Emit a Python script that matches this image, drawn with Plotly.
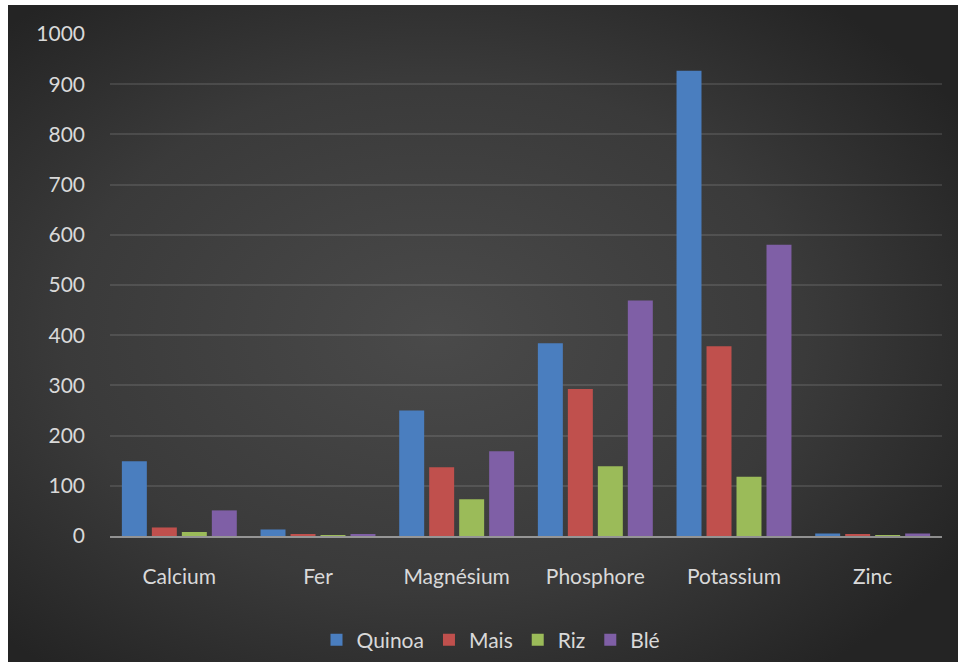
import base64
import plotly.graph_objects as go

# Mineral content (mg per 100 g)
minerals = ["Calcium", "Fer", "Magnésium", "Phosphore", "Potassium", "Zinc"]
quinoa = [149, 13, 250, 384, 927, 5]
mais = [17, 4, 137, 293, 378, 4]
riz = [8, 2, 73, 139, 118, 1.5]
ble = [51, 3.5, 169, 469, 580, 5]

series_names = ["Quinoa", "Mais", "Riz", "Blé"]
series_values = [quinoa, mais, riz, ble]
series_colors = ["#4a7ebf", "#c0504d", "#9bbb59", "#7f5fa6"]

y_ticks = list(range(0, 1001, 100))

# Figure geometry (pixels)
W, H = 958, 662
ML, MR, MT, MB = 110, 16, 34, 126
PW, PH = W - ML - MR, H - MT - MB

# Dark radial backdrop as an inline SVG
svg = (
    '<svg xmlns="http://www.w3.org/2000/svg" width="950" height="657" '
    'preserveAspectRatio="none">'
    '<defs><radialGradient id="g" cx="45%" cy="50%" r="65%">'
    '<stop offset="0%" stop-color="#4a4a4a"/>'
    '<stop offset="60%" stop-color="#3a3a3a"/>'
    '<stop offset="100%" stop-color="#242424"/>'
    '</radialGradient></defs>'
    '<rect width="950" height="657" fill="url(#g)"/></svg>'
)
bg_src = "data:image/svg+xml;base64," + base64.b64encode(svg.encode()).decode()

fig = go.Figure()
for name, vals, col in zip(series_names, series_values, series_colors):
    fig.add_trace(go.Bar(
        x=minerals, y=vals, name=name,
        marker=dict(color=col, line=dict(width=0)),
    ))

text_col = "#d9d9d9"
font_family = "Lato, 'Open Sans', sans-serif"

fig.update_layout(
    width=W, height=H,
    margin=dict(l=ML, r=MR, t=MT, b=MB, pad=0, autoexpand=False),
    paper_bgcolor="white",
    plot_bgcolor="rgba(0,0,0,0)",
    barmode="group",
    bargap=0.135,
    bargroupgap=0.167,
    font=dict(family=font_family, color=text_col, size=21),
    showlegend=True,
    legend=dict(
        orientation="h",
        xref="container", x=491 / W, xanchor="center",
        yref="container", y=1 - 640 / H, yanchor="middle",
        font=dict(size=21, color=text_col),
        bgcolor="rgba(0,0,0,0)",
        traceorder="normal",
    ),
    images=[dict(
        source=bg_src, xref="paper", yref="paper",
        x=(8 - ML) / PW, y=1 + (MT - 5) / PH,
        sizex=(W - 8) / PW, sizey=(H - 5) / PH,
        xanchor="left", yanchor="top", sizing="stretch", layer="below",
    )],
)

fig.update_xaxes(
    showgrid=False,
    showline=True, linecolor="rgba(210,210,210,0.6)", linewidth=2,
    layer="above traces",
    ticks="", ticklabelstandoff=21,
    tickfont=dict(size=21, color=text_col),
)
fig.update_yaxes(
    range=[0, 1000],
    tickvals=y_ticks,
    showgrid=True, gridcolor="rgba(255,255,255,0.11)", gridwidth=1.6,
    zeroline=False, showline=False,
    ticks="", ticklabelstandoff=24,
    tickfont=dict(size=21, color=text_col),
)

fig.write_html("out.html")
